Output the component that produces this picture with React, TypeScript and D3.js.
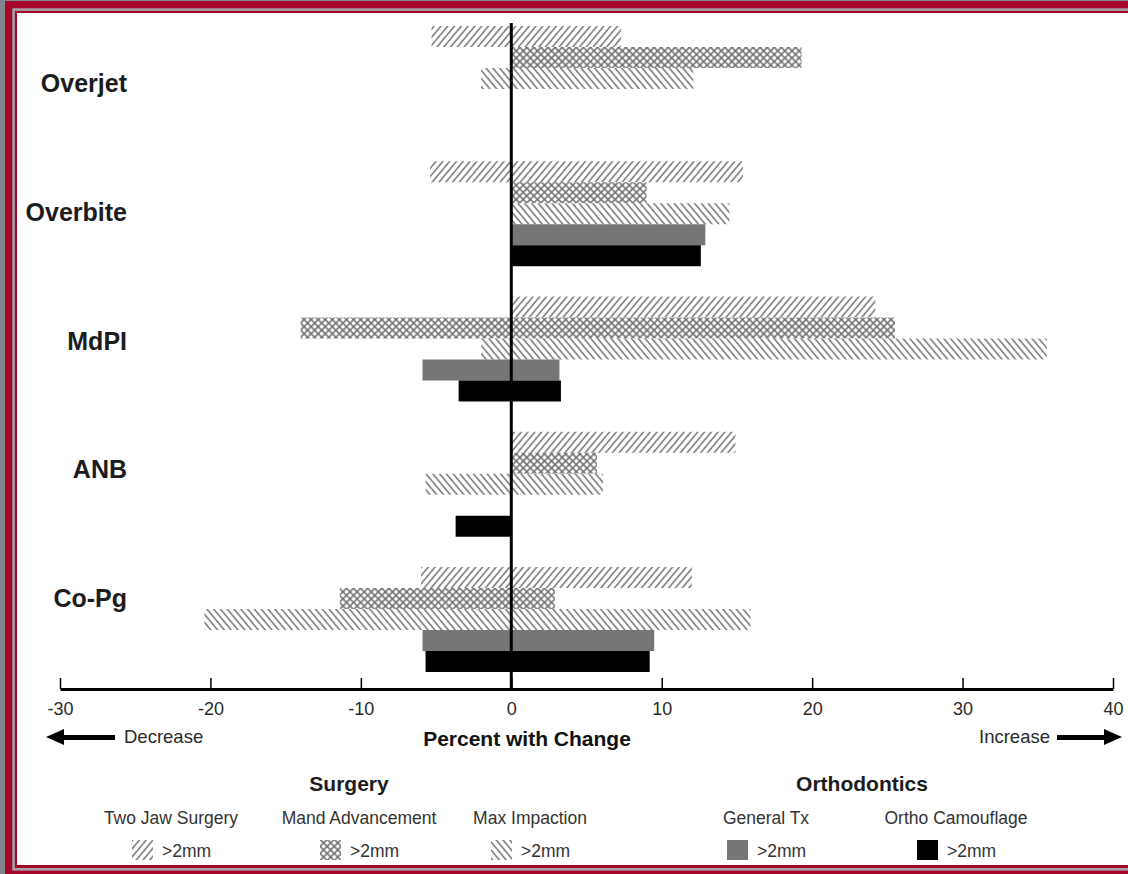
import React, { useRef, useEffect } from 'react';
import * as d3 from 'd3';

const categories = ['Overjet', 'Overbite', 'MdPI', 'ANB', 'Co-Pg'];
const seriesNames = ['Two Jaw Surgery', 'Mand Advancement', 'Max Impaction', 'General Tx', 'Ortho Camouflage'];
const groupNames = ['Surgery', 'Orthodontics'];

// percent of patients with a change >2mm: decrease (negative side) and increase (positive side)
const twoJawDecrease = [-5.3, -5.4, 0, 0, -6.0];
const twoJawIncrease = [7.3, 15.4, 24.2, 14.9, 12.0];
const mandDecrease = [0, 0, -14.0, 0, -11.4];
const mandIncrease = [19.3, 9.0, 25.5, 5.7, 2.9];
const maxDecrease = [-2.0, 0, -2.0, -5.7, -20.4];
const maxIncrease = [12.1, 14.5, 35.6, 6.1, 15.9];
const generalDecrease = [null, 0, -5.9, null, -5.9];
const generalIncrease = [null, 12.9, 3.2, null, 9.5];
const orthoDecrease = [null, 0, -3.5, -3.7, -5.7];
const orthoIncrease = [null, 12.6, 3.3, 0, 9.2];

const xTicks = [-30, -20, -10, 0, 10, 20, 30, 40];

const FONT = '"Liberation Sans", Arial, Helvetica, sans-serif';

const App = () => {
  const svgRef = useRef<SVGSVGElement | null>(null);

  useEffect(() => {
    const svg = d3.select(svgRef.current);
    svg.selectAll('*').remove();

    const width = 1128;
    const height = 874;

    // frame
    svg.append('rect').attr('width', width).attr('height', height).attr('fill', '#83868e');
    svg.append('rect').attr('x', 5).attr('y', 1).attr('width', width).attr('height', height)
      .attr('fill', '#a5072b');
    svg.append('rect').attr('x', 13.6).attr('y', 9.6).attr('width', width).attr('height', 869.3 - 9.6)
      .attr('fill', 'none').attr('stroke', '#a4a2aa').attr('stroke-width', 2.6);
    svg.append('rect').attr('x', 17).attr('y', 13).attr('width', width).attr('height', 865 - 13)
      .attr('fill', '#fff');

    // patterns
    const defs = svg.append('defs');
    const hatch = (id: string, angle: number) => {
      const p = defs.append('pattern').attr('id', id)
        .attr('patternUnits', 'userSpaceOnUse')
        .attr('width', 5.2).attr('height', 5.2)
        .attr('patternTransform', `rotate(${angle})`);
      p.append('rect').attr('width', 5.2).attr('height', 5.2).attr('fill', '#fff');
      p.append('line').attr('x1', 1).attr('y1', -1).attr('x2', 1).attr('y2', 6.2)
        .attr('stroke', '#7c7c7c').attr('stroke-width', 1.6);
    };
    hatch('twoJaw', 40);
    hatch('maxImp', -40);
    const cross = defs.append('pattern').attr('id', 'mand')
      .attr('patternUnits', 'userSpaceOnUse')
      .attr('width', 5).attr('height', 5)
      .attr('patternTransform', 'rotate(45)');
    cross.append('rect').attr('width', 5).attr('height', 5).attr('fill', '#fff');
    cross.append('line').attr('x1', 1).attr('y1', -1).attr('x2', 1).attr('y2', 6)
      .attr('stroke', '#6a6a6a').attr('stroke-width', 1.5);
    cross.append('line').attr('x1', -1).attr('y1', 1).attr('x2', 6).attr('y2', 1)
      .attr('stroke', '#6a6a6a').attr('stroke-width', 1.5);

    const fills = ['url(#twoJaw)', 'url(#mand)', 'url(#maxImp)', '#767676', '#000'];
    const decs = [twoJawDecrease, mandDecrease, maxDecrease, generalDecrease, orthoDecrease];
    const incs = [twoJawIncrease, mandIncrease, maxIncrease, generalIncrease, orthoIncrease];

    const axisY = 689;

    const x = d3.scaleLinear().domain([-30, 40]).range([60, 1113]);

    const y = d3.scaleBand()
      .domain(categories)
      .range([26, 672])
      .paddingInner(0.224)
      .paddingOuter(0);

    const ySub = d3.scaleBand()
      .domain(seriesNames)
      .range([0, y.bandwidth()]);

    const yLabel = d3.scalePoint()
      .domain(categories)
      .range([83, 598]);

    const g = svg.append('g');

    seriesNames.forEach((name, i) => {
      const rows = categories
        .map((c, j) => ({ c, lo: decs[i][j], hi: incs[i][j] }))
        .filter(d => d.lo != null && d.hi != null && (d.lo !== 0 || d.hi !== 0));
      g.selectAll(null)
        .data(rows)
        .enter().append('rect')
        .attr('x', d => x(d.lo as number))
        .attr('width', d => x(d.hi as number) - x(d.lo as number))
        .attr('y', d => (y(d.c) as number) + (ySub(name) as number))
        .attr('height', ySub.bandwidth())
        .attr('fill', fills[i]);
    });

    // zero line
    g.append('line')
      .attr('x1', x(0)).attr('x2', x(0))
      .attr('y1', 23).attr('y2', axisY)
      .attr('stroke', '#000').attr('stroke-width', 3);

    // category labels
    g.selectAll('.cat')
      .data(categories)
      .enter().append('text')
      .attr('x', 127)
      .attr('y', d => yLabel(d) as number)
      .attr('dy', '0.36em')
      .attr('text-anchor', 'end')
      .attr('font-family', FONT)
      .attr('font-weight', 'bold')
      .attr('font-size', 25)
      .attr('fill', '#1c1c1c')
      .text(d => d);

    // x axis
    const ax = g.append('g')
      .attr('transform', `translate(0,${axisY})`)
      .call(d3.axisBottom(x).tickValues(xTicks).tickSize(-11).tickSizeOuter(0)
        .tickPadding(13).tickFormat(d => String(d)));
    ax.select('.domain').attr('stroke-width', 3);
    ax.selectAll('.tick line').attr('stroke-width', 1.5);
    ax.selectAll('.tick text')
      .attr('font-family', FONT)
      .attr('font-size', 18)
      .attr('fill', '#2a2a2a');

    // axis title and arrows
    g.append('text')
      .attr('x', 527).attr('y', 746)
      .attr('text-anchor', 'middle')
      .attr('font-family', FONT).attr('font-weight', 'bold').attr('font-size', 21)
      .attr('fill', '#111')
      .text('Percent with Change');
    g.append('text')
      .attr('x', 124).attr('y', 743)
      .attr('font-family', FONT).attr('font-size', 18.5).attr('fill', '#2a2a2a')
      .text('Decrease');
    g.append('text')
      .attr('x', 1050).attr('y', 743)
      .attr('text-anchor', 'end')
      .attr('font-family', FONT).attr('font-size', 18.5).attr('fill', '#2a2a2a')
      .text('Increase');
    g.append('path')
      .attr('d', 'M46,737 L64,729 L64,735 L115,735 L115,740 L64,740 L64,745 Z')
      .attr('fill', '#000');
    g.append('path')
      .attr('d', 'M1122,737 L1104,729 L1104,735 L1057,735 L1057,740 L1104,740 L1104,745 Z')
      .attr('fill', '#000');

    // legend
    const groupCenters = [349, 862];
    g.selectAll('.grp')
      .data(groupNames)
      .enter().append('text')
      .attr('x', (d, i) => groupCenters[i])
      .attr('y', 791)
      .attr('text-anchor', 'middle')
      .attr('font-family', FONT).attr('font-weight', 'bold').attr('font-size', 21)
      .attr('fill', '#1c1c1c')
      .text(d => d);

    const itemCenters = [171, 359, 530, 766, 956];
    const items = g.selectAll('.item')
      .data(seriesNames)
      .enter().append('g')
      .attr('transform', (d, i) => `translate(${itemCenters[i]},0)`);
    items.append('text')
      .attr('y', 824)
      .attr('text-anchor', 'middle')
      .attr('font-family', FONT).attr('font-size', 17.5).attr('fill', '#333')
      .text(d => d);
    items.append('rect')
      .attr('x', -39).attr('y', 840)
      .attr('width', 21).attr('height', 20)
      .attr('fill', (d, i) => fills[i]);
    items.append('text')
      .attr('x', -9).attr('y', 857)
      .attr('font-family', FONT).attr('font-size', 17.5).attr('fill', '#333')
      .text('>2mm');
  }, []);

  return (
    <svg
      ref={svgRef}
      width={1128}
      height={874}
      style={{ position: 'absolute', left: 0, top: 0 }}
    />
  );
};

export default App;
